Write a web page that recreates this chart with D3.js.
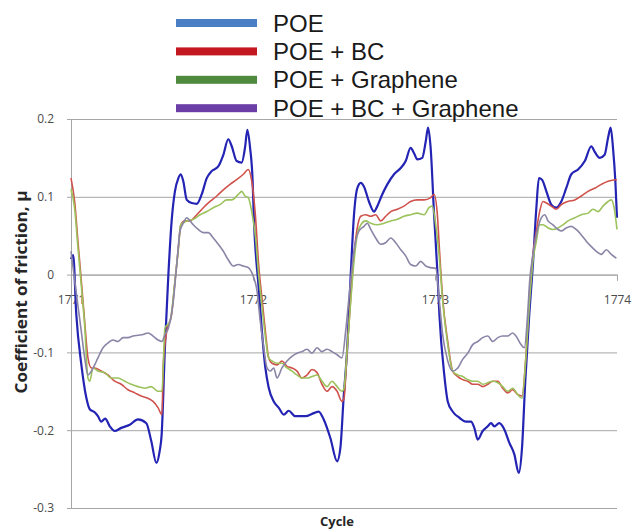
<!DOCTYPE html>
<html>
<head>
<meta charset="utf-8">
<script src="https://cdn.jsdelivr.net/npm/d3@7"></script>
<style>
  body { margin: 0; background: #fff; }
  svg { display: block; }
</style>
</head>
<body>
<svg id="chart" width="632" height="531"></svg>
<script>
// tick labels
const cycleTicks = [1771, 1772, 1773, 1774];
const muTicks = [0.2, 0.1, 0, -0.1, -0.2, -0.3];
const seriesNames = ['POE', 'POE + BC', 'POE + Graphene', 'POE + BC + Graphene'];

// [cycle, coefficient of friction]
const poe = [
  [1771.000, 0.020], [1771.012, 0.025], [1771.029, -0.051], [1771.057, -0.116], [1771.084, -0.158],
  [1771.103, -0.173], [1771.130, -0.177], [1771.148, -0.182], [1771.166, -0.189], [1771.188, -0.185],
  [1771.213, -0.195], [1771.240, -0.201], [1771.276, -0.197], [1771.323, -0.193], [1771.368, -0.186],
  [1771.414, -0.191], [1771.441, -0.214], [1771.469, -0.242], [1771.487, -0.227], [1771.498, -0.206],
  [1771.516, -0.094], [1771.535, 0.000], [1771.553, 0.069], [1771.571, 0.107], [1771.590, 0.124],
  [1771.603, 0.129], [1771.617, 0.120], [1771.636, 0.096], [1771.663, 0.092], [1771.691, 0.091],
  [1771.718, 0.103], [1771.746, 0.124], [1771.773, 0.133], [1771.809, 0.139], [1771.837, 0.154],
  [1771.864, 0.174], [1771.883, 0.165], [1771.910, 0.146], [1771.938, 0.144], [1771.956, 0.163],
  [1771.969, 0.186], [1771.984, 0.163], [1771.998, 0.120], [1772.004, 0.077], [1772.031, -0.017],
  [1772.049, -0.073], [1772.068, -0.120], [1772.086, -0.145], [1772.114, -0.163], [1772.141, -0.171],
  [1772.169, -0.180], [1772.196, -0.175], [1772.232, -0.182], [1772.287, -0.182], [1772.334, -0.178],
  [1772.361, -0.176], [1772.388, -0.186], [1772.425, -0.210], [1772.462, -0.240], [1772.480, -0.223],
  [1772.498, -0.158], [1772.518, -0.094], [1772.537, 0.000], [1772.555, 0.077], [1772.573, 0.111],
  [1772.592, 0.118], [1772.610, 0.113], [1772.637, 0.094], [1772.665, 0.081], [1772.683, 0.088],
  [1772.710, 0.103], [1772.738, 0.116], [1772.775, 0.129], [1772.812, 0.137], [1772.839, 0.146],
  [1772.866, 0.163], [1772.885, 0.156], [1772.903, 0.148], [1772.930, 0.150], [1772.949, 0.171],
  [1772.962, 0.189], [1772.976, 0.163], [1772.995, 0.077], [1773.013, 0.004], [1773.024, -0.051],
  [1773.051, -0.129], [1773.070, -0.163], [1773.097, -0.176], [1773.134, -0.184], [1773.170, -0.189],
  [1773.198, -0.189], [1773.216, -0.197], [1773.235, -0.212], [1773.262, -0.201], [1773.290, -0.195],
  [1773.308, -0.191], [1773.326, -0.195], [1773.353, -0.191], [1773.381, -0.199], [1773.408, -0.216],
  [1773.436, -0.231], [1773.460, -0.255], [1773.478, -0.223], [1773.496, -0.137], [1773.518, -0.051],
  [1773.538, 0.013], [1773.557, 0.086], [1773.571, 0.124], [1773.588, 0.122], [1773.612, 0.107],
  [1773.639, 0.090], [1773.666, 0.086], [1773.694, 0.094], [1773.721, 0.111], [1773.749, 0.129],
  [1773.786, 0.135], [1773.823, 0.146], [1773.859, 0.165], [1773.877, 0.158], [1773.905, 0.150],
  [1773.932, 0.154], [1773.951, 0.176], [1773.965, 0.189], [1773.978, 0.163], [1773.991, 0.120],
  [1774.000, 0.073]
];

const poeBC = [
  [1771.000, 0.124], [1771.020, 0.094], [1771.038, 0.043], [1771.057, -0.009], [1771.075, -0.060],
  [1771.093, -0.107], [1771.112, -0.120], [1771.130, -0.120], [1771.166, -0.124], [1771.203, -0.129],
  [1771.240, -0.137], [1771.276, -0.141], [1771.313, -0.148], [1771.350, -0.152], [1771.386, -0.156],
  [1771.423, -0.159], [1771.451, -0.163], [1771.478, -0.171], [1771.500, -0.180], [1771.507, -0.116],
  [1771.526, -0.073], [1771.553, -0.051], [1771.571, -0.009], [1771.590, 0.034], [1771.603, 0.064],
  [1771.626, 0.069], [1771.654, 0.069], [1771.691, 0.077], [1771.727, 0.086], [1771.764, 0.094],
  [1771.801, 0.101], [1771.837, 0.109], [1771.874, 0.116], [1771.910, 0.122], [1771.947, 0.129],
  [1771.974, 0.135], [1771.993, 0.120], [1772.013, 0.077], [1772.031, 0.013], [1772.049, -0.030],
  [1772.068, -0.073], [1772.086, -0.107], [1772.104, -0.114], [1772.132, -0.116], [1772.159, -0.111],
  [1772.187, -0.118], [1772.214, -0.120], [1772.242, -0.124], [1772.269, -0.133], [1772.297, -0.129],
  [1772.324, -0.122], [1772.352, -0.126], [1772.379, -0.141], [1772.407, -0.150], [1772.434, -0.144],
  [1772.462, -0.150], [1772.489, -0.163], [1772.500, -0.159], [1772.518, -0.094], [1772.537, -0.030],
  [1772.555, 0.026], [1772.573, 0.060], [1772.592, 0.075], [1772.619, 0.077], [1772.647, 0.075],
  [1772.674, 0.077], [1772.702, 0.069], [1772.729, 0.075], [1772.757, 0.081], [1772.793, 0.084],
  [1772.830, 0.088], [1772.866, 0.094], [1772.903, 0.096], [1772.940, 0.096], [1772.976, 0.099],
  [1772.995, 0.103], [1773.013, 0.077], [1773.024, 0.034], [1773.042, -0.030], [1773.070, -0.086],
  [1773.097, -0.124], [1773.125, -0.131], [1773.152, -0.135], [1773.180, -0.137], [1773.207, -0.141],
  [1773.235, -0.141], [1773.262, -0.144], [1773.290, -0.141], [1773.317, -0.137], [1773.345, -0.137],
  [1773.372, -0.146], [1773.399, -0.152], [1773.427, -0.148], [1773.454, -0.154], [1773.478, -0.156],
  [1773.500, -0.103], [1773.518, -0.030], [1773.538, 0.026], [1773.557, 0.056], [1773.575, 0.081],
  [1773.593, 0.094], [1773.612, 0.092], [1773.639, 0.088], [1773.666, 0.084], [1773.694, 0.090],
  [1773.731, 0.094], [1773.768, 0.096], [1773.804, 0.101], [1773.841, 0.107], [1773.877, 0.111],
  [1773.914, 0.116], [1773.951, 0.120], [1773.991, 0.122], [1774.000, 0.122]
];

const poeGraphene = [
  [1771.000, 0.110], [1771.020, 0.085], [1771.038, 0.035], [1771.057, -0.015], [1771.075, -0.065],
  [1771.093, -0.133], [1771.103, -0.137], [1771.121, -0.120], [1771.148, -0.124], [1771.185, -0.126],
  [1771.221, -0.133], [1771.258, -0.133], [1771.295, -0.137], [1771.331, -0.141], [1771.368, -0.144],
  [1771.405, -0.146], [1771.441, -0.144], [1771.478, -0.150], [1771.500, -0.150], [1771.516, -0.069],
  [1771.544, -0.060], [1771.571, -0.009], [1771.590, 0.034], [1771.603, 0.064], [1771.636, 0.069],
  [1771.672, 0.071], [1771.709, 0.077], [1771.746, 0.081], [1771.782, 0.086], [1771.819, 0.090],
  [1771.855, 0.096], [1771.883, 0.096], [1771.919, 0.103], [1771.938, 0.107], [1771.956, 0.101],
  [1771.974, 0.099], [1771.993, 0.081], [1772.013, 0.050], [1772.031, 0.000], [1772.049, -0.040],
  [1772.068, -0.080], [1772.086, -0.107], [1772.104, -0.111], [1772.132, -0.114], [1772.159, -0.114],
  [1772.187, -0.120], [1772.214, -0.124], [1772.242, -0.129], [1772.269, -0.133], [1772.297, -0.133],
  [1772.324, -0.131], [1772.352, -0.129], [1772.379, -0.137], [1772.407, -0.144], [1772.434, -0.137],
  [1772.462, -0.144], [1772.489, -0.150], [1772.500, -0.146], [1772.518, -0.094], [1772.537, -0.034],
  [1772.555, 0.017], [1772.573, 0.051], [1772.592, 0.064], [1772.619, 0.069], [1772.647, 0.066],
  [1772.683, 0.064], [1772.720, 0.066], [1772.757, 0.069], [1772.793, 0.071], [1772.830, 0.075],
  [1772.866, 0.077], [1772.903, 0.079], [1772.940, 0.077], [1772.967, 0.086], [1772.985, 0.088],
  [1773.004, 0.064], [1773.024, 0.021], [1773.042, -0.034], [1773.070, -0.090], [1773.097, -0.124],
  [1773.125, -0.129], [1773.152, -0.131], [1773.180, -0.135], [1773.207, -0.137], [1773.235, -0.137],
  [1773.262, -0.141], [1773.290, -0.139], [1773.317, -0.137], [1773.345, -0.139], [1773.372, -0.144],
  [1773.399, -0.150], [1773.427, -0.146], [1773.454, -0.154], [1773.478, -0.159], [1773.500, -0.105],
  [1773.518, -0.040], [1773.538, 0.017], [1773.557, 0.043], [1773.575, 0.064], [1773.593, 0.064],
  [1773.621, 0.060], [1773.648, 0.058], [1773.676, 0.060], [1773.703, 0.064], [1773.731, 0.069],
  [1773.768, 0.073], [1773.804, 0.077], [1773.841, 0.079], [1773.868, 0.084], [1773.896, 0.081],
  [1773.923, 0.088], [1773.951, 0.094], [1773.969, 0.096], [1773.984, 0.086], [1774.000, 0.058]
];

const poeBCGraphene = [
  [1771.000, 0.030], [1771.027, -0.020], [1771.055, -0.070], [1771.077, -0.110], [1771.093, -0.129],
  [1771.112, -0.124], [1771.130, -0.116], [1771.148, -0.107], [1771.176, -0.094], [1771.203, -0.088],
  [1771.231, -0.084], [1771.258, -0.086], [1771.286, -0.081], [1771.313, -0.081], [1771.341, -0.079],
  [1771.368, -0.078], [1771.396, -0.077], [1771.423, -0.075], [1771.451, -0.079], [1771.478, -0.084],
  [1771.500, -0.086], [1771.516, -0.077], [1771.535, -0.069], [1771.562, -0.034], [1771.581, 0.013],
  [1771.599, 0.056], [1771.617, 0.066], [1771.636, 0.073], [1771.654, 0.069], [1771.672, 0.064],
  [1771.699, 0.058], [1771.727, 0.054], [1771.754, 0.054], [1771.782, 0.047], [1771.809, 0.039],
  [1771.837, 0.030], [1771.864, 0.019], [1771.892, 0.011], [1771.919, 0.013], [1771.947, 0.011],
  [1771.974, 0.009], [1771.998, 0.000], [1772.022, -0.021], [1772.040, -0.060], [1772.059, -0.094],
  [1772.077, -0.120], [1772.095, -0.124], [1772.114, -0.120], [1772.132, -0.133], [1772.159, -0.120],
  [1772.187, -0.111], [1772.214, -0.105], [1772.242, -0.101], [1772.269, -0.099], [1772.297, -0.096],
  [1772.324, -0.101], [1772.352, -0.094], [1772.379, -0.099], [1772.407, -0.096], [1772.434, -0.099],
  [1772.462, -0.103], [1772.489, -0.107], [1772.509, -0.073], [1772.527, -0.030], [1772.546, 0.013],
  [1772.564, 0.043], [1772.582, 0.056], [1772.610, 0.062], [1772.628, 0.066], [1772.647, 0.058],
  [1772.674, 0.047], [1772.702, 0.039], [1772.729, 0.041], [1772.757, 0.047], [1772.784, 0.041],
  [1772.812, 0.032], [1772.839, 0.024], [1772.866, 0.013], [1772.894, 0.011], [1772.921, 0.017],
  [1772.949, 0.011], [1772.976, 0.009], [1773.004, 0.008], [1773.024, -0.034], [1773.042, -0.077],
  [1773.070, -0.111], [1773.097, -0.124], [1773.125, -0.120], [1773.152, -0.109], [1773.180, -0.101],
  [1773.207, -0.090], [1773.235, -0.086], [1773.262, -0.081], [1773.290, -0.079], [1773.317, -0.086],
  [1773.345, -0.081], [1773.372, -0.079], [1773.399, -0.079], [1773.427, -0.075], [1773.445, -0.079],
  [1773.473, -0.090], [1773.491, -0.094], [1773.509, -0.051], [1773.520, -0.009], [1773.538, 0.026],
  [1773.557, 0.051], [1773.584, 0.073], [1773.603, 0.077], [1773.621, 0.069], [1773.648, 0.064],
  [1773.676, 0.058], [1773.694, 0.056], [1773.721, 0.060], [1773.749, 0.062], [1773.776, 0.058],
  [1773.804, 0.051], [1773.831, 0.043], [1773.859, 0.036], [1773.886, 0.030], [1773.914, 0.026],
  [1773.941, 0.032], [1773.969, 0.026], [1773.996, 0.021]
];

const lineColors = ['#2424b4', '#d0524c', '#9cc25c', '#8a84a6'];
const swatchColors = ['#4a7fc6', '#c41820', '#4f8a3e', '#6a3ea6'];

const svg = d3.select('#chart');
const plot = { left: 71, right: 617, top: 119, bottom: 508 };

const x = d3.scaleLinear().domain([1771, 1774]).range([plot.left, plot.right]);
const y = d3.scaleLinear().domain([-0.3, 0.2]).range([plot.bottom, plot.top]);

svg.append('rect').attr('width', 632).attr('height', 531).attr('fill', '#fff');

// horizontal gridlines
svg.append('g')
  .attr('transform', `translate(${plot.left},0)`)
  .call(d3.axisLeft(y).tickValues(muTicks).tickSize(-(plot.right - plot.left)).tickFormat(''))
  .call(g => g.select('.domain').remove())
  .call(g => g.selectAll('line').attr('stroke', '#a6a6a6').attr('stroke-width', 1));

// y axis
svg.append('g')
  .attr('transform', `translate(${plot.left},0)`)
  .call(d3.axisLeft(y).tickValues(muTicks).tickSize(4).tickPadding(13)
    .tickFormat(d => String(d)))
  .call(g => g.select('.domain').attr('stroke', '#a6a6a6'))
  .call(g => g.selectAll('line').attr('stroke', '#a6a6a6'))
  .call(g => g.selectAll('text')
    .attr('fill', '#4a4a4a')
    .style('font', '12px "Open Sans", sans-serif'));

// x axis crossing at zero
svg.append('g')
  .attr('transform', `translate(0,${y(0)})`)
  .call(d3.axisBottom(x).tickValues(cycleTicks).tickSize(6).tickPadding(15)
    .tickFormat(d3.format('d')))
  .call(g => g.select('.domain').attr('stroke', '#a6a6a6'))
  .call(g => g.selectAll('line').attr('stroke', '#a6a6a6'))
  .call(g => g.selectAll('text')
    .attr('fill', '#4a4a4a')
    .style('font', '12px "Open Sans", sans-serif'));

// series
const line = d3.line()
  .x(d => x(d[0]))
  .y(d => y(d[1]))
  .curve(d3.curveMonotoneX);

const allSeries = [poe, poeBC, poeGraphene, poeBCGraphene];
svg.append('g')
  .selectAll('path')
  .data(allSeries)
  .join('path')
  .attr('d', line)
  .attr('fill', 'none')
  .attr('stroke', (d, i) => lineColors[i])
  .attr('stroke-width', (d, i) => i === 0 ? 2.2 : 1.6)
  .attr('stroke-linejoin', 'round');

// axis titles
svg.append('text')
  .attr('transform', 'translate(27,292) rotate(-90)')
  .attr('text-anchor', 'middle')
  .attr('fill', '#262626')
  .attr('textLength', 203)
  .attr('lengthAdjust', 'spacingAndGlyphs')
  .style('font', 'bold 16px "Open Sans", sans-serif')
  .text('Coefficient of friction, μ');

svg.append('text')
  .attr('x', 337)
  .attr('y', 526)
  .attr('text-anchor', 'middle')
  .attr('fill', '#262626')
  .style('font', 'bold 13px "Open Sans", sans-serif')
  .text('Cycle');

// legend
const legend = svg.append('g')
  .selectAll('g')
  .data(seriesNames)
  .join('g')
  .attr('transform', (d, i) => `translate(176,${23 + i * 28.4})`);

legend.append('rect')
  .attr('x', 0)
  .attr('y', -4)
  .attr('width', 81)
  .attr('height', 8)
  .attr('fill', (d, i) => swatchColors[i]);

legend.append('text')
  .attr('x', 97)
  .attr('y', 8.5)
  .attr('fill', '#1a1a1a')
  .style('font', '24px "Liberation Sans", Arial, sans-serif')
  .text(d => d);
</script>
</body>
</html>
